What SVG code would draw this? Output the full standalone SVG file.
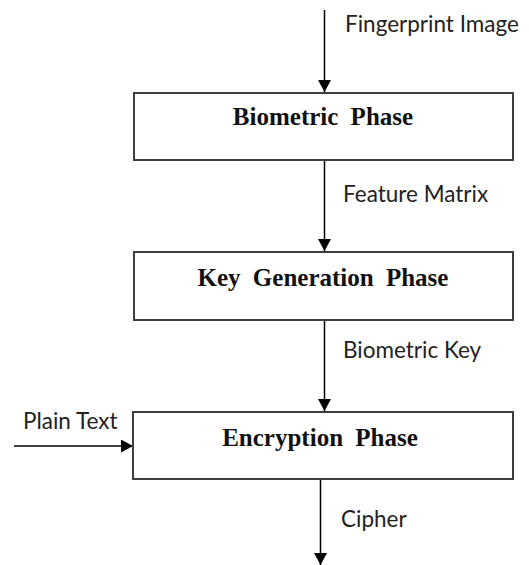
<svg xmlns="http://www.w3.org/2000/svg" width="529" height="565" viewBox="0 0 529 565">
<style>
.box{fill:#fff;stroke:#3f3f3f;stroke-width:2}
.title{font-family:"Liberation Serif","Times New Roman",serif;font-weight:bold;font-size:25px;word-spacing:6px;fill:#111;text-anchor:middle}
.lbl{font-family:Lato,"Open Sans",sans-serif;font-size:22.5px;fill:#222}
.conn line{stroke:#000;stroke-width:1.5}
</style>
<defs>
<marker id="ah" viewBox="0 0 12 13" refX="12" refY="6.5" markerWidth="12" markerHeight="13" markerUnits="userSpaceOnUse" orient="auto">
<path d="M0,0 L12,6.5 L0,13 z" fill="#000"/>
</marker>
</defs>
<rect width="529" height="565" fill="#fff"/>
<g class="conn">
<line x1="324.5" y1="10" x2="324.5" y2="92" marker-end="url(#ah)"/>
<line x1="324.5" y1="160" x2="324.5" y2="251" marker-end="url(#ah)"/>
<line x1="324.5" y1="320" x2="324.5" y2="411" marker-end="url(#ah)"/>
<line x1="14" y1="446" x2="133" y2="446" marker-end="url(#ah)"/>
<line x1="320.5" y1="479" x2="320.5" y2="565" marker-end="url(#ah)"/>
</g>
<g id="biometric">
<rect class="box" x="134" y="93" width="379" height="67"/>
<text class="title" x="323" y="125">Biometric Phase</text>
</g>
<g id="keygen">
<rect class="box" x="134" y="252" width="379" height="68"/>
<text class="title" x="323" y="286">Key Generation Phase</text>
</g>
<g id="encryption">
<rect class="box" x="133" y="412" width="380" height="67"/>
<text class="title" x="320" y="446">Encryption Phase</text>
</g>
<g id="labels">
<text class="lbl" x="345" y="32">Fingerprint Image</text>
<text class="lbl" x="343" y="202">Feature Matrix</text>
<text class="lbl" x="343" y="358">Biometric Key</text>
<text class="lbl" x="23" y="429">Plain Text</text>
<text class="lbl" x="341" y="527">Cipher</text>
</g>
</svg>
